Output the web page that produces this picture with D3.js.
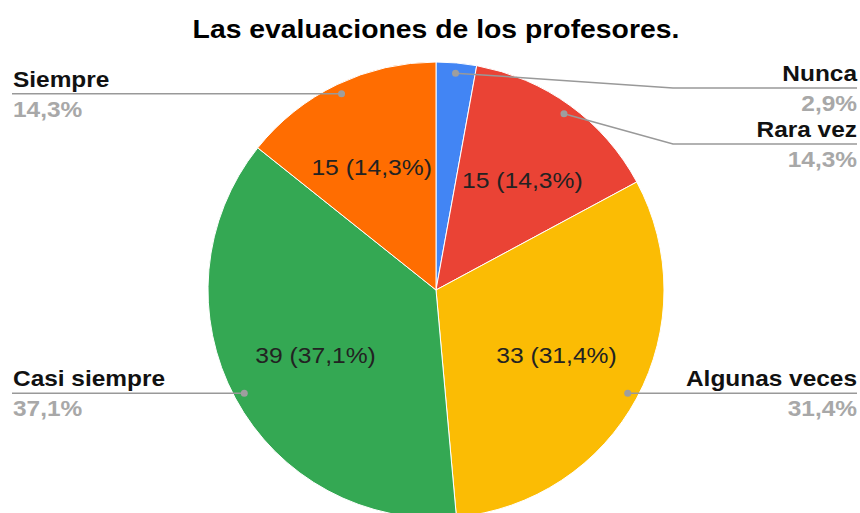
<!DOCTYPE html>
<html>
<head>
<meta charset="utf-8">
<script src="https://cdn.jsdelivr.net/npm/d3@7"></script>
<style>
  html, body { margin: 0; padding: 0; background: #fff; }
  svg { display: block; font-family: "Liberation Sans", Arial, sans-serif; }
</style>
</head>
<body>
<svg id="chart" width="860" height="513"></svg>
<script>
var title = "Las evaluaciones de los profesores.";
var categories = ["Nunca", "Rara vez", "Algunas veces", "Casi siempre", "Siempre"];
var values = [3, 15, 33, 39, 15];
var colors = ["#4285f4", "#ea4335", "#fbbc04", "#34a853", "#ff6d01"];

var W = 860, H = 513;
var cx = 436, cy = 290, r = 228;

var svg = d3.select("#chart");
var total = d3.sum(values);
var fmt = function(v){ return (v / total * 100).toFixed(1).replace(".", ",") + "%"; };

// the reference text is a bit wider than Liberation Sans, widen glyphs
function widen(sel, k){
  sel.each(function(){
    var len = this.getComputedTextLength();
    d3.select(this).attr("textLength", len * k).attr("lengthAdjust", "spacingAndGlyphs");
  });
  return sel;
}

var data = categories.map(function(c, i){ return { name: c, value: values[i], color: colors[i] }; });

var pie = d3.pie().sort(null).value(function(d){ return d.value; });
var arcs = pie(data);
var arc = d3.arc().innerRadius(0).outerRadius(r);
var dotArc = d3.arc().innerRadius(r * 0.955).outerRadius(r * 0.955);
var innerArc = d3.arc().innerRadius(r * 0.6).outerRadius(r * 0.6);

widen(svg.append("text")
  .attr("x", 436).attr("y", 38)
  .attr("text-anchor", "middle")
  .attr("font-size", 26).attr("font-weight", "bold")
  .attr("fill", "#000")
  .text(title), 1.09);

var g = svg.append("g").attr("transform", "translate(" + cx + "," + cy + ")");

g.selectAll("path.slice").data(arcs).enter()
  .append("path")
  .classed("slice", true)
  .attr("d", arc)
  .attr("fill", function(d){ return d.data.color; })
  .attr("stroke", "#fff")
  .attr("stroke-width", 1);

// labels inside slices (skip the tiny one), nudged so the text box stays inside its slice
function angDiff(a, b){
  var d = a - b;
  while (d > Math.PI) d -= 2 * Math.PI;
  while (d < -Math.PI) d += 2 * Math.PI;
  return d;
}
var inner = g.selectAll("text.inner").data(arcs.filter(function(d){ return d.data.value > 5; })).enter()
  .append("text")
  .classed("inner", true)
  .attr("text-anchor", "middle")
  .attr("font-size", 22)
  .attr("fill", "#222")
  .text(function(d){ return d.data.value + " (" + fmt(d.data.value) + ")"; });
widen(inner, 1.12);
inner.each(function(d){
  var c = innerArc.centroid(d);
  var x = c[0], y = c[1] + 8;
  var hw = this.getBBox().width / 2 + 4;
  var mid = (d.startAngle + d.endAngle) / 2, half = (d.endAngle - d.startAngle) / 2;
  for (var it = 0; it < 120; it++) {
    var corners = [[x - hw, y - 19], [x + hw, y - 19], [x - hw, y + 5], [x + hw, y + 5]];
    var moved = false;
    for (var k = 0; k < 4; k++) {
      var a = Math.atan2(corners[k][0], -corners[k][1]);
      var dd = angDiff(a, mid);
      if (dd > half) { x -= 0.5 * Math.cos(a); y -= 0.5 * Math.sin(a); moved = true; break; }
      if (dd < -half) { x += 0.5 * Math.cos(a); y += 0.5 * Math.sin(a); moved = true; break; }
    }
    if (!moved) break;
  }
  d3.select(this).attr("x", x).attr("y", y);
});

// leader labels
var minY = 88, gap = 56;
var right = [], left = [];
arcs.forEach(function(d){
  var p = dotArc.centroid(d);
  var item = { d: d, dx: cx + p[0], dy: cy + p[1] };
  if (p[0] >= 0) right.push(item); else left.push(item);
});
function stack(list){
  list.sort(function(a, b){ return a.dy - b.dy; });
  var prev = -Infinity;
  list.forEach(function(it){
    it.ly = Math.max(it.dy, minY, prev + gap);
    if (it.ly > it.dy + 1 && it.dy < minY + 1) it.ly = Math.max(minY, prev + gap);
    prev = it.ly;
  });
}
stack(right); stack(left);

var lines = svg.append("g");
right.forEach(function(it){
  var elbow = it.ly > it.dy + 1 ? 673 : it.dx;
  lines.append("path")
    .attr("d", "M" + it.dx + "," + it.dy + "L" + elbow + "," + it.ly + "L857," + it.ly)
    .attr("fill", "none").attr("stroke", "#999").attr("stroke-width", 1.5);
  lines.append("circle").attr("cx", it.dx).attr("cy", it.dy).attr("r", 3.5).attr("fill", "#9e9e9e");
  widen(lines.append("text").attr("x", 857).attr("y", it.ly - 7).attr("text-anchor", "end")
    .attr("font-size", 22).attr("font-weight", "bold").attr("fill", "#111").text(it.d.data.name), 1.11);
  widen(lines.append("text").attr("x", 857).attr("y", it.ly + 23).attr("text-anchor", "end")
    .attr("font-size", 22).attr("font-weight", "bold").attr("fill", "#a8a8a8").text(fmt(it.d.data.value)), 1.11);
});
left.forEach(function(it){
  lines.append("path")
    .attr("d", "M" + it.dx + "," + it.dy + "L12," + it.ly)
    .attr("fill", "none").attr("stroke", "#999").attr("stroke-width", 1.5);
  lines.append("circle").attr("cx", it.dx).attr("cy", it.dy).attr("r", 3.5).attr("fill", "#9e9e9e");
  widen(lines.append("text").attr("x", 13).attr("y", it.ly - 7)
    .attr("font-size", 22).attr("font-weight", "bold").attr("fill", "#111").text(it.d.data.name), 1.11);
  widen(lines.append("text").attr("x", 13).attr("y", it.ly + 23)
    .attr("font-size", 22).attr("font-weight", "bold").attr("fill", "#a8a8a8").text(fmt(it.d.data.value)), 1.11);
});
</script>
</body>
</html>
